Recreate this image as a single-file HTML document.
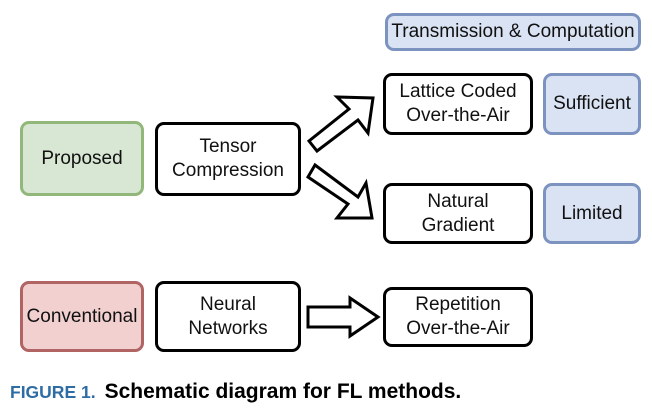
<!DOCTYPE html>
<html><head><style>
body{margin:0;background:#fff;width:652px;height:412px;position:relative;overflow:hidden;font-family:"Liberation Sans",sans-serif}
.b{position:absolute;box-sizing:border-box;border:3px solid #000;border-radius:9px;display:flex;align-items:center;justify-content:center;text-align:center;font-size:19px;line-height:24px;color:#111;white-space:nowrap}
.blue{background:#dae3f3;border-color:#7d93bf}
.green{background:#d8e7d3;border-color:#92b77a}
.red{background:#f2d0d0;border-color:#b06464}
</style></head><body>
<div class="b blue" style="left:385px;top:13px;width:256px;height:38px">Transmission &amp; Computation</div>
<div class="b" style="left:383px;top:73px;width:150px;height:62px">Lattice Coded<br>Over-the-Air</div>
<div class="b blue" style="left:543px;top:73px;width:98px;height:62px">Sufficient</div>
<div class="b" style="left:383px;top:183px;width:150px;height:61px">Natural<br>Gradient</div>
<div class="b blue" style="left:543px;top:183px;width:98px;height:61px">Limited</div>
<div class="b green" style="left:20px;top:121px;width:124px;height:75px">Proposed</div>
<div class="b" style="left:155px;top:122px;width:146px;height:74px">Tensor<br>Compression</div>
<div class="b red" style="left:20px;top:281px;width:124px;height:71px">Conventional</div>
<div class="b" style="left:155px;top:281px;width:146px;height:71px">Neural<br>Networks</div>
<div class="b" style="left:383px;top:287px;width:150px;height:60px">Repetition<br>Over-the-Air</div>
<svg style="position:absolute;left:0;top:0" width="652" height="412">
<g fill="#fff" stroke="#000" stroke-width="3" stroke-linejoin="miter">
<polygon points="309,141 317,151 358,120 368,133 373,98 337,97 349,109"/>
<polygon points="315,165 308,177 348,204 337,218 372,218 366,183 358,197"/>
<polygon points="308,307 350,307 350,298 378,317 350,336 350,327 308,327"/>
</g>
</svg>
<div style="position:absolute;left:10px;top:378px;font-size:21px;font-weight:bold;white-space:nowrap;line-height:28px"><span style="color:#2e6ca4;font-size:17.5px">FIGURE 1.</span><span style="margin-left:9px">Schematic diagram for FL methods.</span></div>
</body></html>
